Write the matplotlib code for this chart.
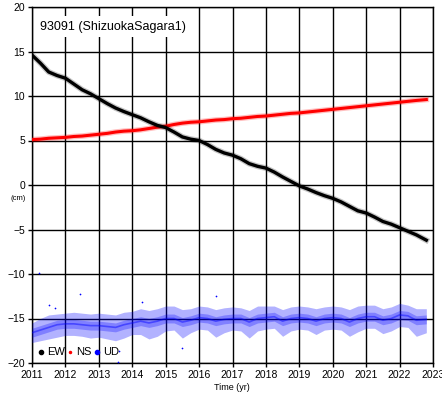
import matplotlib
matplotlib.use("Agg")
import matplotlib.pyplot as plt
from matplotlib.lines import Line2D

plt.rcParams['font.family'] = ['Liberation Sans', 'DejaVu Sans']

# ---- data (quarterly samples, cm) ----
t = [2011.0, 2011.25, 2011.5, 2011.75, 2012.0, 2012.25, 2012.5, 2012.75,
     2013.0, 2013.25, 2013.5, 2013.75, 2014.0, 2014.25, 2014.5, 2014.75,
     2015.0, 2015.25, 2015.5, 2015.75, 2016.0, 2016.25, 2016.5, 2016.75,
     2017.0, 2017.25, 2017.5, 2017.75, 2018.0, 2018.25, 2018.5, 2018.75,
     2019.0, 2019.25, 2019.5, 2019.75, 2020.0, 2020.25, 2020.5, 2020.75,
     2021.0, 2021.25, 2021.5, 2021.75, 2022.0, 2022.25, 2022.5, 2022.8]

ew = [14.6, 13.7, 12.7, 12.3, 12.0, 11.35, 10.7, 10.25,
      9.7, 9.15, 8.65, 8.25, 7.9, 7.55, 7.1, 6.7,
      6.45, 5.95, 5.4, 5.15, 5.0, 4.55, 4.0, 3.6,
      3.35, 2.95, 2.4, 2.1, 1.9, 1.45, 0.9, 0.4,
      -0.1, -0.45, -0.85, -1.2, -1.5, -1.9, -2.4, -2.9,
      -3.15, -3.6, -4.1, -4.4, -4.8, -5.2, -5.6, -6.2]

ns = [5.1, 5.15, 5.25, 5.3, 5.35, 5.45, 5.5, 5.6,
      5.7, 5.8, 5.95, 6.05, 6.1, 6.2, 6.35, 6.5,
      6.6, 6.8, 6.95, 7.05, 7.1, 7.2, 7.3, 7.35,
      7.45, 7.5, 7.6, 7.7, 7.75, 7.85, 7.95, 8.05,
      8.1, 8.2, 8.3, 8.4, 8.5, 8.6, 8.7, 8.8,
      8.9, 9.0, 9.1, 9.2, 9.3, 9.4, 9.5, 9.6]

ud_mid = [-16.6, -16.3, -16.0, -15.7, -15.6, -15.6, -15.7, -15.8,
          -15.8, -15.9, -16.0, -15.7, -15.5, -15.3, -15.5, -15.3,
          -15.0, -15.0, -15.4, -15.2, -14.9, -15.0, -15.3, -15.1,
          -15.0, -15.0, -15.4, -15.0, -14.9, -14.8, -15.3, -15.0,
          -14.9, -15.0, -15.3, -15.0, -14.9, -15.0, -15.4, -15.0,
          -14.8, -14.8, -15.2, -15.0, -14.6, -14.7, -15.2, -15.1]
ud_lo = [-17.7, -17.5, -17.3, -17.1, -16.9, -16.9, -17.0, -17.2,
         -17.1, -17.3, -17.5, -17.2, -16.8, -16.8, -17.3, -17.0,
         -16.4, -16.3, -17.2, -16.6, -16.2, -16.3, -17.1, -16.6,
         -16.3, -16.4, -17.2, -16.4, -16.2, -16.1, -17.0, -16.4,
         -16.2, -16.3, -16.8, -16.3, -16.2, -16.3, -17.0, -16.5,
         -16.1, -16.1, -16.7, -16.4, -15.9, -16.0, -17.0, -16.6]
ud_hi = [-15.5, -15.0, -14.6, -14.5, -14.4, -14.3, -14.4, -14.5,
         -14.4, -14.5, -14.6, -14.3, -14.2, -13.9, -14.1, -13.9,
         -13.6, -13.6, -14.0, -13.9, -13.6, -13.7, -14.0, -13.8,
         -13.7, -13.8, -14.1, -13.6, -13.6, -13.6, -14.0, -13.7,
         -13.6, -13.7, -13.9, -13.7, -13.6, -13.7, -14.0, -13.6,
         -13.5, -13.5, -13.9, -13.7, -13.3, -13.5, -13.9, -13.9]

# isolated UD outliers
ud_out_t = [2011.2, 2011.5, 2011.7, 2012.45, 2013.6, 2013.58, 2014.3, 2015.5, 2016.5]
ud_out_v = [-9.9, -13.5, -13.8, -12.2, -18.6, -19.9, -13.1, -18.3, -12.5]

xticks = list(range(2011, 2024))
yticks = [20, 15, 10, 5, 0, -5, -10, -15, -20]
title = "93091 (ShizuokaSagara1)"

# ---- figure ----
fig = plt.figure(figsize=(4.42, 3.98), dpi=100)
ax = fig.add_axes([32 / 442, 1 - 363 / 398, (433 - 32) / 442, (363 - 7) / 398])

ax.set_xlim(2011, 2023)
ax.set_ylim(-20, 20)
ax.set_xticks(xticks)
ax.set_yticks(yticks)
ax.set_xticklabels([str(v) for v in xticks], fontsize=7.5)
ax.set_yticklabels([str(v).replace('-', '\u2212') for v in yticks], fontsize=7.5)
ax.tick_params(direction='out', length=3, width=1, pad=2)
ax.grid(True, color='black', linewidth=1.0)
ax.set_axisbelow(True)
for s in ax.spines.values():
    s.set_linewidth(1.0)

# UD cloud
ax.fill_between(t, ud_lo, ud_hi, color='blue', alpha=0.3, linewidth=0, zorder=3)
ax.fill_between(t, [m - 0.5 for m in ud_mid], [m + 0.5 for m in ud_mid],
                color='blue', alpha=0.28, linewidth=0, zorder=3)
ax.plot(t, ud_mid, color='blue', lw=1.2, alpha=0.45, zorder=4)
ax.scatter(ud_out_t, ud_out_v, s=1.5, color='blue', zorder=4, linewidths=0)

# NS
ax.plot(t, ns, color='red', lw=4.0, alpha=0.25, zorder=4)
ax.plot(t, ns, color='red', lw=2.2, zorder=5)

# EW
ax.plot(t, ew, color='black', lw=4.2, alpha=0.22, zorder=6)
ax.plot(t, ew, color='black', lw=2.4, zorder=7)

ax.text(2011.24, 17.8, title, fontsize=9, ha='left', va='center', zorder=8,
        bbox=dict(facecolor='white', edgecolor='none', pad=3.5))

handles = [Line2D([], [], ls='none', marker='o', ms=3, color='black', label='EW'),
           Line2D([], [], ls='none', marker='o', ms=1.5, color='red', label='NS'),
           Line2D([], [], ls='none', marker='o', ms=3, color='blue', label='UD')]
ax.legend(handles=handles, loc='lower left', ncol=3, frameon=False, fontsize=8,
          handlelength=0.6, handletextpad=0.25, columnspacing=0.2,
          borderaxespad=0.3, borderpad=0.2)

fig.text(18 / 442, 1 - 198 / 398, "(cm)", fontsize=5.5, ha='center', va='center')
fig.text(232 / 442, 1 - 388 / 398, "Time (yr)", fontsize=6.5, ha='center', va='center')

fig.savefig("out.png", dpi=100)
